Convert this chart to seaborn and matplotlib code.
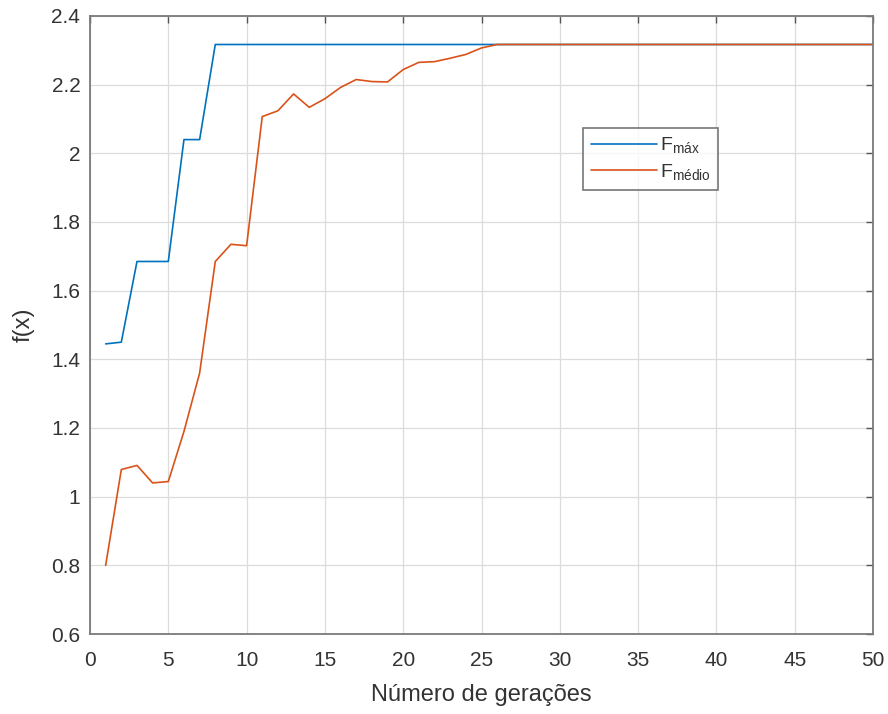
import matplotlib
matplotlib.use("Agg")
import matplotlib.pyplot as plt
import seaborn as sns
import pandas as pd

# Generations and fitness per generation
geracoes = list(range(1, 51))
f_max = [1.445, 1.450, 1.685, 1.685, 1.685, 2.040, 2.040, 2.317, 2.317, 2.317,
         2.317, 2.317, 2.317, 2.317, 2.317, 2.317, 2.317, 2.317, 2.317, 2.317,
         2.317, 2.317, 2.317, 2.317, 2.317, 2.317, 2.317, 2.317, 2.317, 2.317,
         2.317, 2.317, 2.317, 2.317, 2.317, 2.317, 2.317, 2.317, 2.317, 2.317,
         2.317, 2.317, 2.317, 2.317, 2.317, 2.317, 2.317, 2.317, 2.317, 2.317]
f_medio = [0.800, 1.079, 1.091, 1.040, 1.044, 1.190, 1.360, 1.685, 1.735, 1.731,
           2.107, 2.124, 2.173, 2.134, 2.159, 2.192, 2.215, 2.209, 2.208, 2.244,
           2.265, 2.267, 2.277, 2.288, 2.307, 2.317, 2.317, 2.317, 2.317, 2.317,
           2.317, 2.317, 2.317, 2.317, 2.317, 2.317, 2.317, 2.317, 2.317, 2.317,
           2.317, 2.317, 2.317, 2.317, 2.317, 2.317, 2.317, 2.317, 2.317, 2.317]

lbl_max = r"F$_{\mathrm{máx}}$"
lbl_med = r"F$_{\mathrm{médio}}$"

df = pd.DataFrame({
    "ger": geracoes * 2,
    "f": f_max + f_medio,
    "serie": [lbl_max] * len(geracoes) + [lbl_med] * len(geracoes),
})

sns.set_theme(style="white")
plt.rcParams["font.family"] = ["Liberation Sans", "DejaVu Sans"]
plt.rcParams["mathtext.fontset"] = "custom"
plt.rcParams["mathtext.rm"] = "Liberation Sans"
plt.rcParams["mathtext.it"] = "Liberation Sans"

fig = plt.figure(figsize=(8.88, 7.14), dpi=100)
ax = fig.add_axes([90 / 888, 1 - 634 / 714, 783 / 888, 618 / 714])

sns.lineplot(data=df, x="ger", y="f", hue="serie",
             palette=["#0072BD", "#D95319"], linewidth=1.2, ax=ax,
             legend=True)

ax.set_xlim(0, 50)
ax.set_ylim(0.6, 2.4)
ax.set_xticks(range(0, 51, 5))
ax.set_yticks([0.6, 0.8, 1.0, 1.2, 1.4, 1.6, 1.8, 2.0, 2.2, 2.4])
ax.set_yticklabels(["0.6", "0.8", "1", "1.2", "1.4", "1.6", "1.8", "2", "2.2", "2.4"])
ax.grid(True, color="#dcdcdc", linewidth=0.9)
ax.set_axisbelow(True)
for s in ax.spines.values():
    s.set_color("#7a7a7a")
    s.set_linewidth(1.3)
ax.tick_params(direction="in", length=5, width=1.0, color="#555555",
               top=True, right=True, labelsize=15, labelcolor="#333333")
ax.tick_params(axis="x", pad=12)
ax.tick_params(axis="y", pad=7)
ax.set_xlabel("Número de gerações", fontsize=17, color="#333333", labelpad=10)
ax.set_ylabel("f(x)", fontsize=17, color="#333333", labelpad=12)

leg = ax.legend(loc="lower left", bbox_to_anchor=(493 / 783, (634 - 190) / 618),
                title=None, fontsize=14, frameon=True, fancybox=False,
                handlelength=3.4, borderpad=0.4, labelspacing=0.35,
                handletextpad=0.15, borderaxespad=0)
leg.get_frame().set_edgecolor("#555555")
leg.get_frame().set_linewidth(1.2)
for t in leg.get_texts():
    t.set_color("#333333")

fig.savefig("out.png", dpi=100)
